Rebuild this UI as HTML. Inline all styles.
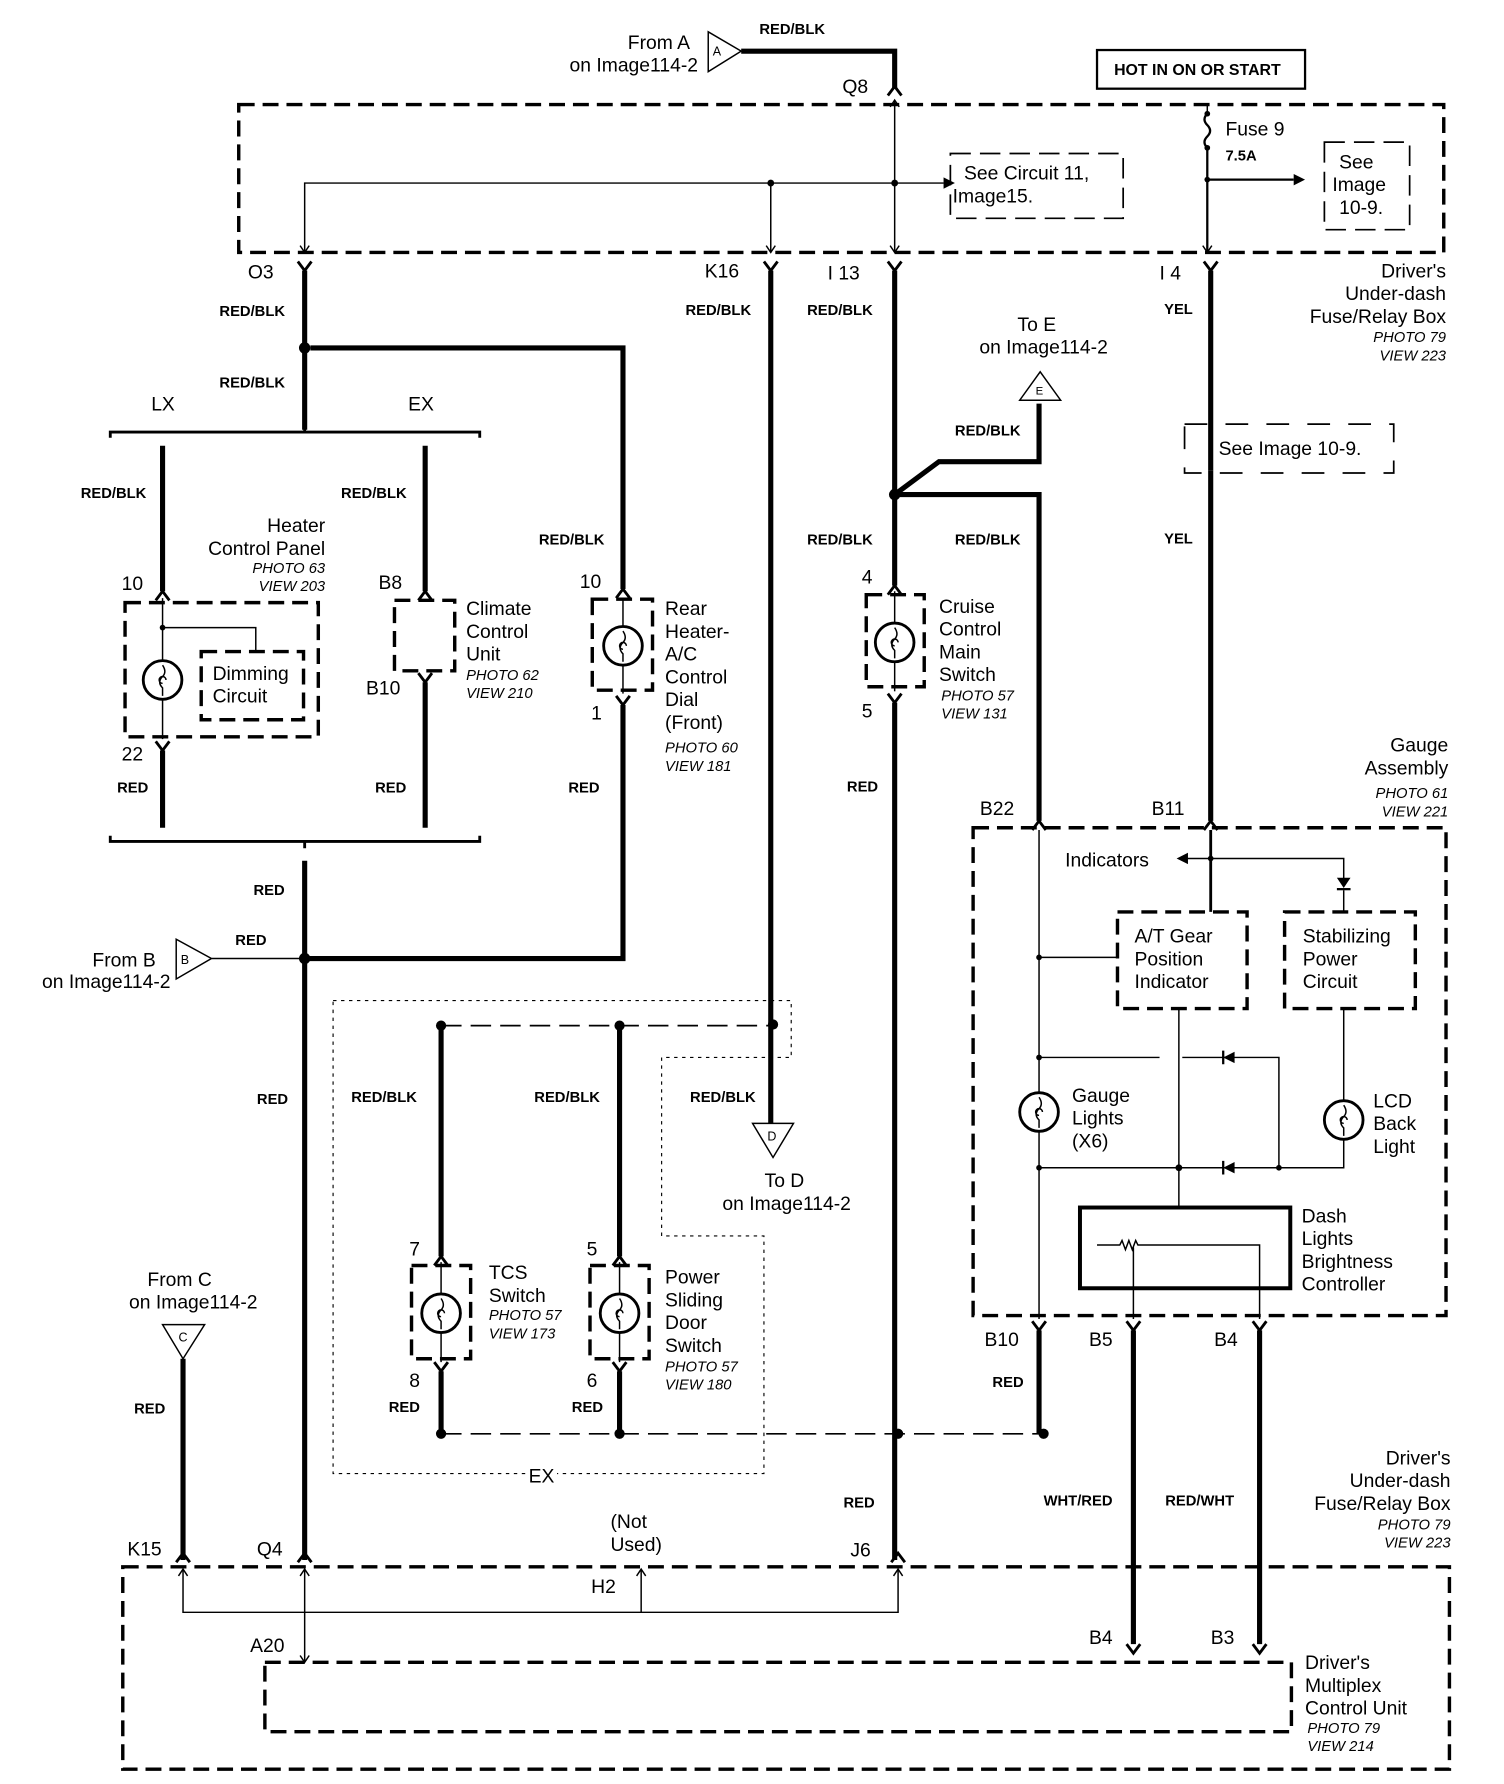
<!DOCTYPE html>
<html><head><meta charset="utf-8"><style>
html,body{margin:0;padding:0;background:#fff}
svg{display:block}
text{font-family:"Liberation Sans",Arial,sans-serif;fill:#000}
.l{font-size:17px}
.s{font-size:13px;font-weight:bold}
.i{font-size:13px;font-style:italic}
.th{stroke:#000;stroke-width:4.5;fill:none}
.tn{stroke:#000;stroke-width:1.3;fill:none}
.db{stroke:#000;stroke-width:3;fill:none;stroke-dasharray:14 7}
.dt{stroke:#000;stroke-width:1.5;fill:none;stroke-dasharray:18 8}
.do{stroke:#000;stroke-width:1;fill:none;stroke-dasharray:3 4}
.c{stroke:#000;stroke-width:2.5;fill:none}
</style></head><body>
<svg width="1504" height="1784" viewBox="0 0 1323 1569" preserveAspectRatio="none" xmlns="http://www.w3.org/2000/svg">
<!-- TOP -->
<text class="l" x="607" y="43" text-anchor="end">From A</text>
<text class="l" x="614" y="63" text-anchor="end">on Image114-2</text>
<path class="tn" d="M623 28 L623 63 L652 45 Z"/><text x="627" y="49" style="font-size:11px">A</text>
<path class="th" d="M652 45 H787 V78"/>
<path class="c" d="M781 84 L787 76 L793 84"/>
<text class="s" x="668" y="30">RED/BLK</text>
<text class="l" x="741" y="82">Q8</text>
<rect x="965" y="44" width="183" height="34" stroke="#000" stroke-width="2" fill="none"/>
<text class="s" x="980" y="66" style="font-size:14px">HOT IN ON OR START</text>
<rect class="db" x="210" y="92" width="1060" height="130"/>
<path class="tn" d="M787 88 V222 M268 222 V161 H830"/>
<path class="tn" d="M783 94 L787 88 L791 94 M783 216 L787 222 L791 216 M264 216 L268 222 L272 216 M678 161 V222 M674 216 L678 222 L682 216"/>
<path d="M830 156 L840 161 L830 166 Z"/>
<circle cx="678" cy="161" r="3"/><circle cx="787" cy="161" r="3"/>
<path class="dt" d="M836 135 H988 V192 H836 Z"/>
<text class="l" x="848" y="158">See Circuit 11,</text>
<text class="l" x="838" y="178">Image15.</text>
<path class="tn" d="M1062 92 V100" /><path stroke="#000" stroke-width="2" fill="none" d="M1062 100 q-5 5 0 10 q5 5 0 10 q-5 5 0 10 V222 M1062 158 H1138"/>
<circle cx="1062" cy="100" r="2.5"/><circle cx="1062" cy="130" r="2.5"/><circle cx="1062" cy="158" r="2.5"/>
<path d="M1138 153 L1148 158 L1138 163 Z"/>
<path class="tn" d="M1058 216 L1062 222 L1066 216"/>
<text class="l" x="1078" y="119">Fuse 9</text>
<text class="s" x="1078" y="141">7.5A</text>
<path class="dt" d="M1165 125 H1240 V202 H1165 Z"/>
<text class="l" x="1178" y="148">See</text><text class="l" x="1172" y="168">Image</text><text class="l" x="1178" y="188">10-9.</text>
<!-- O3 -->
<text class="l" x="218" y="245">O3</text>
<path class="c" d="M262 230 L268 238 L274 230"/>
<path class="th" d="M268 238 V378"/>
<text class="s" x="193" y="278">RED/BLK</text>
<text class="s" x="193" y="341">RED/BLK</text>
<circle cx="268" cy="306" r="5"/>
<path class="th" d="M273 306 H548 V518"/>
<text class="l" x="133" y="361">LX</text><text class="l" x="359" y="361">EX</text>
<path stroke="#000" stroke-width="2.5" fill="none" d="M97 385 V380 H422 V385 M268 380 V374"/>
<!-- LX heater -->
<path class="th" d="M143 392 V520"/>
<text class="s" x="71" y="438">RED/BLK</text>
<text class="l" x="107" y="519">10</text>
<path class="c" d="M137 528 L143 520 L149 528"/>
<text class="l" x="286" y="468" text-anchor="end">Heater</text>
<text class="l" x="286" y="488" text-anchor="end">Control Panel</text>
<text class="i" x="286" y="504" text-anchor="end">PHOTO 63</text>
<text class="i" x="286" y="520" text-anchor="end">VIEW 203</text>
<path class="db" d="M110 530 H280 V648 H110 Z"/>
<path class="tn" d="M143 526 V650 M143 552 H225 V573"/>
<circle cx="143" cy="552" r="2.5"/>
<circle cx="143" cy="598" r="17" stroke="#000" stroke-width="2.5" fill="#fff"/>
<path class="tn" d="M143 585 q4 6 0 10 q-5 5 0 10 V612 M146 598 a3 3 0 1 0 -3 3"/>
<path class="db" d="M177 573 H267 V633 H177 Z"/>
<text class="l" x="187" y="598">Dimming</text><text class="l" x="187" y="618">Circuit</text>
<text class="l" x="107" y="669">22</text>
<path class="c" d="M137 652 L143 660 L149 652"/>
<path class="th" d="M143 660 V728"/>
<text class="s" x="103" y="697">RED</text>
<!-- EX climate -->
<path class="th" d="M374 392 V520"/>
<text class="s" x="300" y="438">RED/BLK</text>
<text class="l" x="333" y="518">B8</text>
<path class="c" d="M368 528 L374 520 L380 528"/>
<path class="db" d="M347 528 H400 V590 H347 Z"/>
<text class="l" x="322" y="611">B10</text>
<path class="c" d="M368 592 L374 600 L380 592"/>
<path class="th" d="M374 600 V728"/>
<text class="s" x="330" y="697">RED</text>
<text class="l" x="410" y="541">Climate</text><text class="l" x="410" y="561">Control</text><text class="l" x="410" y="581">Unit</text>
<text class="i" x="410" y="598">PHOTO 62</text><text class="i" x="410" y="614">VIEW 210</text>
<path stroke="#000" stroke-width="2.5" fill="none" d="M97 735 V740 H422 V735 M268 740 V746"/>
<!-- Rear heater -->
<text class="s" x="474" y="479">RED/BLK</text>
<text class="l" x="510" y="517">10</text>
<path class="c" d="M542 526 L548 518 L554 526"/>
<path class="db" d="M521 527 H574 V607 H521 Z"/>
<path class="tn" d="M548 526 V610"/>
<circle cx="548" cy="568" r="17" stroke="#000" stroke-width="2.5" fill="#fff"/>
<path class="tn" d="M548 555 q4 6 0 10 q-5 5 0 10 V582 M551 568 a3 3 0 1 0 -3 3"/>
<text class="l" x="520" y="633">1</text>
<path class="c" d="M542 612 L548 620 L554 612"/>
<text class="l" x="585" y="541">Rear</text><text class="l" x="585" y="561">Heater-</text><text class="l" x="585" y="581">A/C</text>
<text class="l" x="585" y="601">Control</text><text class="l" x="585" y="621">Dial</text><text class="l" x="585" y="641">(Front)</text>
<text class="i" x="585" y="662">PHOTO 60</text><text class="i" x="585" y="678">VIEW 181</text>
<text class="s" x="500" y="697">RED</text>
<!-- RED trunk -->
<path class="th" d="M268 757 V1372 M268 843 H548 V620"/>
<circle cx="268" cy="843" r="5"/>
<text class="s" x="223" y="787">RED</text><text class="s" x="207" y="831">RED</text><text class="s" x="226" y="971">RED</text>
<path class="tn" d="M155 826 L155 861 L186 843 Z M186 843 H268"/><text x="159" y="848" style="font-size:11px">B</text>
<text class="l" x="137" y="850" text-anchor="end">From B</text>
<text class="l" x="150" y="869" text-anchor="end">on Image114-2</text>
<!-- K16 -->
<text class="l" x="620" y="244">K16</text>
<path class="c" d="M672 230 L678 238 L684 230"/>
<path class="th" d="M678 238 V988"/>
<text class="s" x="603" y="277">RED/BLK</text>
<text class="s" x="607" y="969">RED/BLK</text>
<path class="tn" d="M662 988 L698 988 L680 1018 Z"/><text x="675" y="1003" style="font-size:11px">D</text>
<text class="l" x="690" y="1044" text-anchor="middle">To D</text>
<text class="l" x="692" y="1064" text-anchor="middle">on Image114-2</text>
<!-- EX dotted region -->
<path class="do" d="M293 880 H696 V930 H582 V1087 H672 V1296 H490 M462 1296 H293 V880"/>
<text class="l" x="465" y="1304">EX</text>
<path class="dt" d="M388 902 H680"/>
<circle cx="388" cy="902" r="4.5"/><circle cx="545" cy="902" r="4.5"/><circle cx="680" cy="901" r="4.5"/>
<!-- TCS -->
<path class="th" d="M388 902 V1105 M545 902 V1105"/>
<text class="s" x="309" y="969">RED/BLK</text><text class="s" x="470" y="969">RED/BLK</text>
<text class="l" x="360" y="1104">7</text><text class="l" x="516" y="1104">5</text>
<path class="c" d="M382 1113 L388 1105 L394 1113 M539 1113 L545 1105 L551 1113"/>
<path class="db" d="M362 1113 H414 V1195 H362 Z M519 1113 H571 V1195 H519 Z"/>
<path class="tn" d="M388 1110 V1198 M545 1110 V1198"/>
<circle cx="388" cy="1155" r="17" stroke="#000" stroke-width="2.5" fill="#fff"/>
<circle cx="545" cy="1155" r="17" stroke="#000" stroke-width="2.5" fill="#fff"/>
<path class="tn" d="M388 1142 q4 6 0 10 q-5 5 0 10 V1169 M391 1155 a3 3 0 1 0 -3 3 M545 1142 q4 6 0 10 q-5 5 0 10 V1169 M548 1155 a3 3 0 1 0 -3 3"/>
<text class="l" x="360" y="1220">8</text><text class="l" x="516" y="1220">6</text>
<path class="c" d="M382 1198 L388 1206 L394 1198 M539 1198 L545 1206 L551 1198"/>
<path class="th" d="M388 1206 V1261 M545 1206 V1261"/>
<text class="s" x="342" y="1242">RED</text><text class="s" x="503" y="1242">RED</text>
<text class="l" x="430" y="1125">TCS</text><text class="l" x="430" y="1145">Switch</text>
<text class="i" x="430" y="1161">PHOTO 57</text><text class="i" x="430" y="1177">VIEW 173</text>
<text class="l" x="585" y="1129">Power</text><text class="l" x="585" y="1149">Sliding</text><text class="l" x="585" y="1169">Door</text><text class="l" x="585" y="1189">Switch</text>
<text class="i" x="585" y="1206">PHOTO 57</text><text class="i" x="585" y="1222">VIEW 180</text>
<path class="dt" d="M388 1261 H918"/>
<circle cx="388" cy="1261" r="4.5"/><circle cx="545" cy="1261" r="4.5"/><circle cx="790" cy="1261" r="4.5"/><circle cx="918" cy="1261" r="4.5"/>
<!-- I13 cruise -->
<text class="l" x="728" y="246">I 13</text>
<path class="c" d="M781 230 L787 238 L793 230"/>
<path class="th" d="M787 238 V515"/>
<text class="s" x="710" y="277">RED/BLK</text>
<circle cx="787" cy="435" r="5"/>
<path class="th" d="M787 435 L826 406 H914 V355 M787 435 H914 V722"/>
<path class="tn" d="M897 352 L933 352 L915 327 Z"/><text x="911" y="347" style="font-size:10px">E</text>
<text class="l" x="912" y="291" text-anchor="middle">To E</text>
<text class="l" x="918" y="311" text-anchor="middle">on Image114-2</text>
<text class="s" x="840" y="383">RED/BLK</text>
<text class="s" x="840" y="479">RED/BLK</text>
<text class="s" x="710" y="479">RED/BLK</text>
<text class="l" x="758" y="513">4</text>
<path class="c" d="M781 523 L787 515 L793 523"/>
<path class="db" d="M762 523 H813 V604 H762 Z"/>
<path class="tn" d="M787 520 V608"/>
<circle cx="787" cy="565" r="17" stroke="#000" stroke-width="2.5" fill="#fff"/>
<path class="tn" d="M787 552 q4 6 0 10 q-5 5 0 10 V579 M790 565 a3 3 0 1 0 -3 3"/>
<text class="l" x="758" y="631">5</text>
<path class="c" d="M781 610 L787 618 L793 610"/>
<path class="th" d="M787 618 V1372"/>
<text class="s" x="745" y="696">RED</text>
<text class="s" x="742" y="1326">RED</text>
<text class="l" x="826" y="539">Cruise</text><text class="l" x="826" y="559">Control</text><text class="l" x="826" y="579">Main</text><text class="l" x="826" y="599">Switch</text>
<text class="i" x="828" y="616">PHOTO 57</text><text class="i" x="828" y="632">VIEW 131</text>
<!-- I14 -->
<text class="l" x="1020" y="246">I 4</text>
<path class="c" d="M1059 230 L1065 238 L1071 230"/>
<path class="th" d="M1065 238 V722"/>
<text class="s" x="1024" y="276">YEL</text><text class="s" x="1024" y="478">YEL</text>
<path class="dt" d="M1042 373 H1226 V416 H1042 Z" style="stroke-dasharray:20 16"/>
<rect x="1058" y="376" width="14" height="38" fill="#fff"/>
<path class="th" d="M1065 376 V414"/>
<text class="l" x="1072" y="400">See Image 10-9.</text>
<text class="l" x="1272" y="244" text-anchor="end">Driver's</text>
<text class="l" x="1272" y="264" text-anchor="end">Under-dash</text>
<text class="l" x="1272" y="284" text-anchor="end">Fuse/Relay Box</text>
<text class="i" x="1272" y="301" text-anchor="end">PHOTO 79</text>
<text class="i" x="1272" y="317" text-anchor="end">VIEW 223</text>
<!-- Gauge assembly -->
<text class="l" x="1274" y="661" text-anchor="end">Gauge</text>
<text class="l" x="1274" y="681" text-anchor="end">Assembly</text>
<text class="i" x="1274" y="702" text-anchor="end">PHOTO 61</text>
<text class="i" x="1274" y="718" text-anchor="end">VIEW 221</text>
<text class="l" x="862" y="717">B22</text><text class="l" x="1013" y="717">B11</text>
<path class="c" d="M908 730 L914 722 L920 730 M1059 730 L1065 722 L1071 730"/>
<rect class="db" x="856" y="728" width="416" height="429"/>
<path class="tn" d="M914 730 V1160"/>
<path stroke="#000" stroke-width="2.5" fill="none" d="M1065 730 V802"/>
<path class="tn" d="M1044 755 H1182 V775 M1182 783 V802"/>
<path d="M1035 755 L1045 750 L1045 760 Z M1176 772 H1188 L1182 781 Z"/><path stroke="#000" stroke-width="2" d="M1176 782 H1188"/>
<circle cx="1065" cy="755" r="2.5"/>
<text class="l" x="937" y="762">Indicators</text>
<path class="db" d="M983 802 H1097 V887 H983 Z M1130 802 H1245 V887 H1130 Z"/>
<text class="l" x="998" y="829">A/T Gear</text><text class="l" x="998" y="849">Position</text><text class="l" x="998" y="869">Indicator</text>
<text class="l" x="1146" y="829">Stabilizing</text><text class="l" x="1146" y="849">Power</text><text class="l" x="1146" y="869">Circuit</text>
<path class="tn" d="M914 842 H983 M1037 887 V1062 M914 930 H1020 M1040 930 H1125 V1027 M914 1027 H1182 V1002 M1182 887 V968"/>
<circle cx="914" cy="842" r="2.5"/><circle cx="914" cy="930" r="2.5"/><circle cx="914" cy="1027" r="2.5"/><circle cx="1037" cy="1027" r="3"/><circle cx="1125" cy="1027" r="2.5"/>
<path d="M1076 930 L1086 925 L1086 935 Z M1076 1027 L1086 1022 L1086 1032 Z"/><path stroke="#000" stroke-width="2" d="M1076 924 V936 M1076 1021 V1033"/>
<circle cx="914" cy="978" r="17" stroke="#000" stroke-width="2.5" fill="#fff"/>
<path class="tn" d="M914 965 q4 6 0 10 q-5 5 0 10 V992 M917 978 a3 3 0 1 0 -3 3"/>
<circle cx="1182" cy="985" r="17" stroke="#000" stroke-width="2.5" fill="#fff"/>
<path class="tn" d="M1182 972 q4 6 0 10 q-5 5 0 10 V999 M1185 985 a3 3 0 1 0 -3 3"/>
<text class="l" x="943" y="969">Gauge</text><text class="l" x="943" y="989">Lights</text><text class="l" x="943" y="1009">(X6)</text>
<text class="l" x="1208" y="974">LCD</text><text class="l" x="1208" y="994">Back</text><text class="l" x="1208" y="1014">Light</text>
<rect x="950" y="1062" width="185" height="71" stroke="#000" stroke-width="3.5" fill="none"/>
<path class="tn" d="M965 1095 H985 l2 -4 l3 8 l3 -8 l3 8 l3 -8 l2 4 H1108 V1160 M997 1097 V1160"/>
<text class="l" x="1145" y="1075">Dash</text><text class="l" x="1145" y="1095">Lights</text><text class="l" x="1145" y="1115">Brightness</text><text class="l" x="1145" y="1135">Controller</text>
<text class="l" x="866" y="1184">B10</text><text class="l" x="958" y="1184">B5</text><text class="l" x="1068" y="1184">B4</text>
<path class="c" d="M908 1162 L914 1170 L920 1162 M991 1162 L997 1170 L1003 1162 M1102 1162 L1108 1170 L1114 1162"/>
<path class="th" d="M914 1170 V1261 M997 1170 V1446 M1108 1170 V1446"/>
<text class="s" x="873" y="1220">RED</text>
<text class="s" x="918" y="1324">WHT/RED</text><text class="s" x="1025" y="1324">RED/WHT</text>
<!-- From C -->
<text class="l" x="158" y="1131" text-anchor="middle">From C</text>
<text class="l" x="170" y="1151" text-anchor="middle">on Image114-2</text>
<path class="tn" d="M143 1165 L180 1165 L161 1195 Z"/><text x="157" y="1180" style="font-size:11px">C</text>
<path class="th" d="M161 1195 V1372"/>
<text class="s" x="118" y="1243">RED</text>
<!-- bottom box -->
<text class="l" x="112" y="1368">K15</text><text class="l" x="226" y="1368">Q4</text><text class="l" x="748" y="1369">J6</text>
<text class="l" x="537" y="1344">(Not</text><text class="l" x="537" y="1364">Used)</text>
<path class="c" d="M155 1374 L161 1366 L167 1374 M262 1374 L268 1366 L274 1374 M784 1374 L790 1366 L796 1374"/>
<text class="l" x="1276" y="1288" text-anchor="end">Driver's</text>
<text class="l" x="1276" y="1308" text-anchor="end">Under-dash</text>
<text class="l" x="1276" y="1328" text-anchor="end">Fuse/Relay Box</text>
<text class="i" x="1276" y="1345" text-anchor="end">PHOTO 79</text>
<text class="i" x="1276" y="1361" text-anchor="end">VIEW 223</text>
<rect class="db" x="108" y="1378" width="1167" height="178"/>
<path class="tn" d="M161 1380 V1418 H790 V1380 M268 1380 V1462 M564 1418 V1380"/>
<path class="tn" d="M157 1386 L161 1380 L165 1386 M264 1386 L268 1380 L272 1386 M786 1386 L790 1380 L794 1386 M560 1386 L564 1380 L568 1386 M264 1456 L268 1462 L272 1456"/>
<text class="l" x="520" y="1401">H2</text>
<text class="l" x="220" y="1453">A20</text>
<text class="l" x="958" y="1446">B4</text><text class="l" x="1065" y="1446">B3</text>
<path class="c" d="M991 1446 L997 1454 L1003 1446 M1102 1446 L1108 1454 L1114 1446"/>
<rect class="db" x="233" y="1462" width="903" height="61"/>
<text class="l" x="1148" y="1468">Driver's</text><text class="l" x="1148" y="1488">Multiplex</text><text class="l" x="1148" y="1508">Control Unit</text>
<text class="i" x="1150" y="1524">PHOTO 79</text><text class="i" x="1150" y="1540">VIEW 214</text>
</svg>
</body></html>
